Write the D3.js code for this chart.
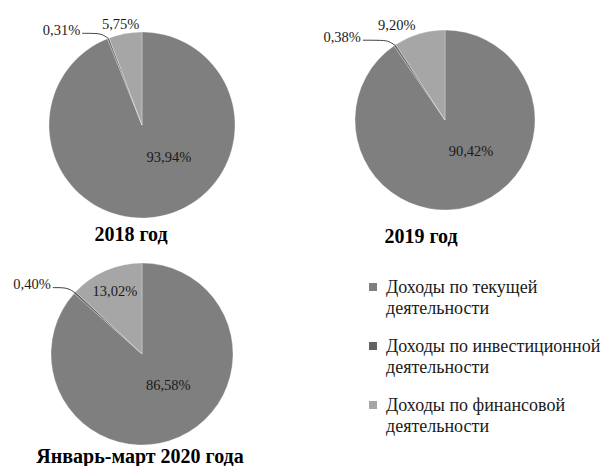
<!DOCTYPE html>
<html>
<head>
<meta charset="utf-8">
<script src="https://cdn.jsdelivr.net/npm/d3@7"></script>
<style>
  body { margin: 0; background: #fff; }
  svg { display: block; }
  svg text { font-family: "Liberation Serif", "Times New Roman", Times, "DejaVu Serif", serif; }
</style>
</head>
<body>
<script>
// categories (legend order = slice order)
const categories = [
    "Доходы по текущей деятельности",
    "Доходы по инвестиционной деятельности",
    "Доходы по финансовой деятельности"
];
const periods = ["2018 год", "2019 год", "Январь-март 2020 года"];
// shares in percent, per period
const values2018 = [93.94, 0.31, 5.75];
const values2019 = [90.42, 0.38, 9.20];
const values2020 = [86.58, 0.40, 13.02];
const seriesValues = [values2018, values2019, values2020];

const colors = ["#7f7f7f", "#626262", "#a6a6a6"];
const width = 605, height = 466;

// layout of each pie (center, radius, title position, label tweaks)
const layout = [
    {cx: 142, cy: 125, r: 93, tx: 131, ty: 241, finOut: true, finDx: -3, lead: 26},
    {cx: 445, cy: 120, r: 90, tx: 421, ty: 243, finOut: true, finDx: -20, lead: 32},
    {cx: 142, cy: 354, r: 91, tx: 140, ty: 463, finOut: false, finDx: 0, lead: 22}
];

const fmt = v => d3.format(".2f")(v).replace(".", ",") + "%";

const svg = d3.select("body").append("svg")
    .attr("width", width)
    .attr("height", height);

const pie = d3.pie().sort(null).value(d => d);

function pointAt(angle, r) {
    return [Math.sin(angle) * r, -Math.cos(angle) * r];
}

seriesValues.forEach((vals, i) => {
    const L = layout[i];
    const g = svg.append("g").attr("transform", `translate(${L.cx},${L.cy})`);
    const arcs = pie(vals);
    const arc = d3.arc().innerRadius(0).outerRadius(L.r);

    g.selectAll("path.slice")
      .data(arcs)
      .enter().append("path")
      .attr("class", "slice")
      .attr("d", arc)
      .attr("fill", (d, j) => colors[j])
      .attr("stroke", "#fff")
      .attr("stroke-width", 0.3);

    // main slice label
    const mainPos = pointAt(140 * Math.PI / 180, L.r * 0.45);
    g.append("text")
      .attr("x", mainPos[0])
      .attr("y", mainPos[1])
      .attr("text-anchor", "middle")
      .attr("dy", "0.35em")
      .attr("font-size", 14.5)
      .attr("fill", "#1a1a1a")
      .text(fmt(vals[0]));

    // investment slice: leader line
    const inv = arcs[1];
    const invMid = (inv.startAngle + inv.endAngle) / 2;
    const e = pointAt(invMid, L.r);
    const end = [e[0] - L.lead, e[1] - 5];
    g.append("path")
      .attr("d", d3.line().curve(d3.curveBasis)([e, [e[0] - 6, e[1] - 4], [e[0] - 12, e[1] - 5], end]))
      .attr("fill", "none")
      .attr("stroke", "#404040")
      .attr("stroke-width", 1);
    g.append("text")
      .attr("x", end[0] - 2)
      .attr("y", end[1])
      .attr("dy", "0.1em")
      .attr("text-anchor", "end")
      .attr("font-size", 14.5)
      .attr("fill", "#1a1a1a")
      .text(fmt(vals[1]));

    // finance slice label
    const fin = arcs[2];
    const finMid = (fin.startAngle + fin.endAngle) / 2;
    const fp = pointAt(finMid, L.finOut ? L.r * 1.1 : L.r * 0.75);
    g.append("text")
      .attr("x", fp[0] + L.finDx)
      .attr("y", fp[1])
      .attr("dy", "0.35em")
      .attr("text-anchor", "middle")
      .attr("font-size", 14.5)
      .attr("fill", "#1a1a1a")
      .text(fmt(vals[2]));

    // title
    svg.append("text")
      .attr("x", L.tx)
      .attr("y", L.ty)
      .attr("text-anchor", "middle")
      .attr("font-size", 20)
      .attr("font-weight", "bold")
      .attr("fill", "#000")
      .text(periods[i]);
});

// legend
const legendY = d3.scalePoint().domain(categories).range([287, 405]);
const legend = svg.append("g");
categories.forEach((c, k) => {
    const y = legendY(c);
    legend.append("rect")
      .attr("x", 369)
      .attr("y", y - 4)
      .attr("width", 8)
      .attr("height", 8)
      .attr("fill", colors[k]);
    const words = c.split(" ");
    const t = legend.append("text")
      .attr("x", 386)
      .attr("y", y)
      .attr("font-size", 18)
      .attr("fill", "#1a1a1a");
    t.append("tspan").attr("x", 386).attr("dy", "0.35em").text(words.slice(0, 3).join(" "));
    t.append("tspan").attr("x", 386).attr("dy", "1.15em").text(words.slice(3).join(" "));
});
</script>
</body>
</html>
